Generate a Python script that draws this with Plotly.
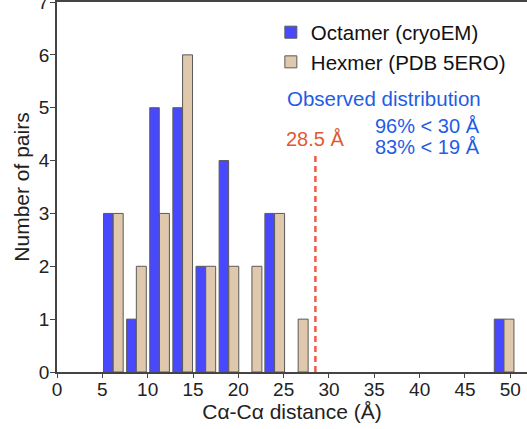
import plotly.graph_objects as go

# Bin positions (Å) and counts
bin_centers = [6.2, 8.75, 11.3, 13.85, 16.4, 18.95, 21.5, 24.0, 26.6, 49.3]
octamer = [3, 1, 5, 5, 2, 4, None, 3, None, 1]
hexamer = [3, 2, 3, 6, 2, 2, 2, 3, 1, 1]
cutoff = 28.5
y_ticks = [0, 1, 2, 3, 4, 5, 6, 7]
x_ticks = [0, 5, 10, 15, 20, 25, 30, 35, 40, 45, 50]

FONT = "Liberation Sans, Arial, sans-serif"
EDGE = "#5a5a5a"
TICKFONT = 19

fig = go.Figure()
fig.add_trace(go.Bar(
    x=bin_centers, y=octamer, name="Octamer (cryoEM)",
    width=1.05, offset=-1.07,
    marker=dict(color="#4848ff", line=dict(color=EDGE, width=1)),
))
fig.add_trace(go.Bar(
    x=bin_centers, y=hexamer, name="Hexmer (PDB 5ERO)",
    width=1.1, offset=0.0,
    marker=dict(color="#dfc8ab", line=dict(color=EDGE, width=1)),
))

fig.add_shape(type="line", xref="x", yref="y", x0=cutoff, x1=cutoff, y0=0, y1=4.16,
              line=dict(color="#f25a4a", width=2.5, dash="6px,4px"))

fig.add_annotation(x=cutoff, y=4.4, xref="x", yref="y", text="28.5 Å", showarrow=False,
                   font=dict(family=FONT, size=20, color="#e05a34"), xanchor="center", yanchor="middle")
fig.add_annotation(x=46.95, y=5.18, xref="x", yref="y", text="Observed distribution", showarrow=False,
                   font=dict(family=FONT, size=20.5, color="#1f5de6"), xanchor="right", yanchor="middle")
fig.add_annotation(x=46.9, y=4.65, xref="x", yref="y", text="96% < 30 Å", showarrow=False,
                   font=dict(family=FONT, size=20, color="#1f5de6"), xanchor="right", yanchor="middle")
fig.add_annotation(x=46.9, y=4.26, xref="x", yref="y", text="83% < 19 Å", showarrow=False,
                   font=dict(family=FONT, size=20, color="#1f5de6"), xanchor="right", yanchor="middle")

# top tick label (partly outside the picture, as in the reference)
fig.add_annotation(x=0, y=y_ticks[-1], xref="paper", yref="y", text=str(y_ticks[-1]), showarrow=False,
                   font=dict(family=FONT, size=TICKFONT, color="#222"), xanchor="right", yanchor="middle",
                   xshift=-6)

fig.update_layout(
    width=527, height=429,
    margin=dict(l=57, r=0, t=2, b=57),
    paper_bgcolor="white", plot_bgcolor="white",
    barmode="overlay",
    font=dict(family=FONT, size=18, color="#222"),
    showlegend=True,
    legend=dict(x=0.455, y=0.972, xanchor="left", yanchor="top",
                font=dict(family=FONT, size=20.5, color="#111"),
                bgcolor="rgba(0,0,0,0)", tracegroupgap=0),
)
fig.update_xaxes(
    range=[0, 51.84], tickvals=x_ticks, ticktext=[str(v) for v in x_ticks],
    ticks="outside", ticklen=4, tickcolor="#444", showline=True, linecolor="#444", linewidth=1.5,
    mirror=True, showgrid=False, zeroline=False, automargin=False,
    tickfont=dict(size=TICKFONT), ticklabelstandoff=-5,
    title=dict(text="Cα-Cα distance (Å)", font=dict(size=21), standoff=2),
)
fig.update_yaxes(
    range=[0, 7], tickvals=y_ticks, ticktext=[str(v) if v != y_ticks[-1] else " " for v in y_ticks],
    ticks="outside", ticklen=5, tickcolor="#444", showline=True, linecolor="#444", linewidth=1.5,
    showgrid=False, zeroline=False, automargin=False,
    tickfont=dict(size=TICKFONT), ticklabelstandoff=-3,
    title=dict(text="Number of pairs", font=dict(size=21), standoff=4),
)

fig.write_html("out.html", config={"displayModeBar": False},
               post_script="document.body.style.margin='0';")
